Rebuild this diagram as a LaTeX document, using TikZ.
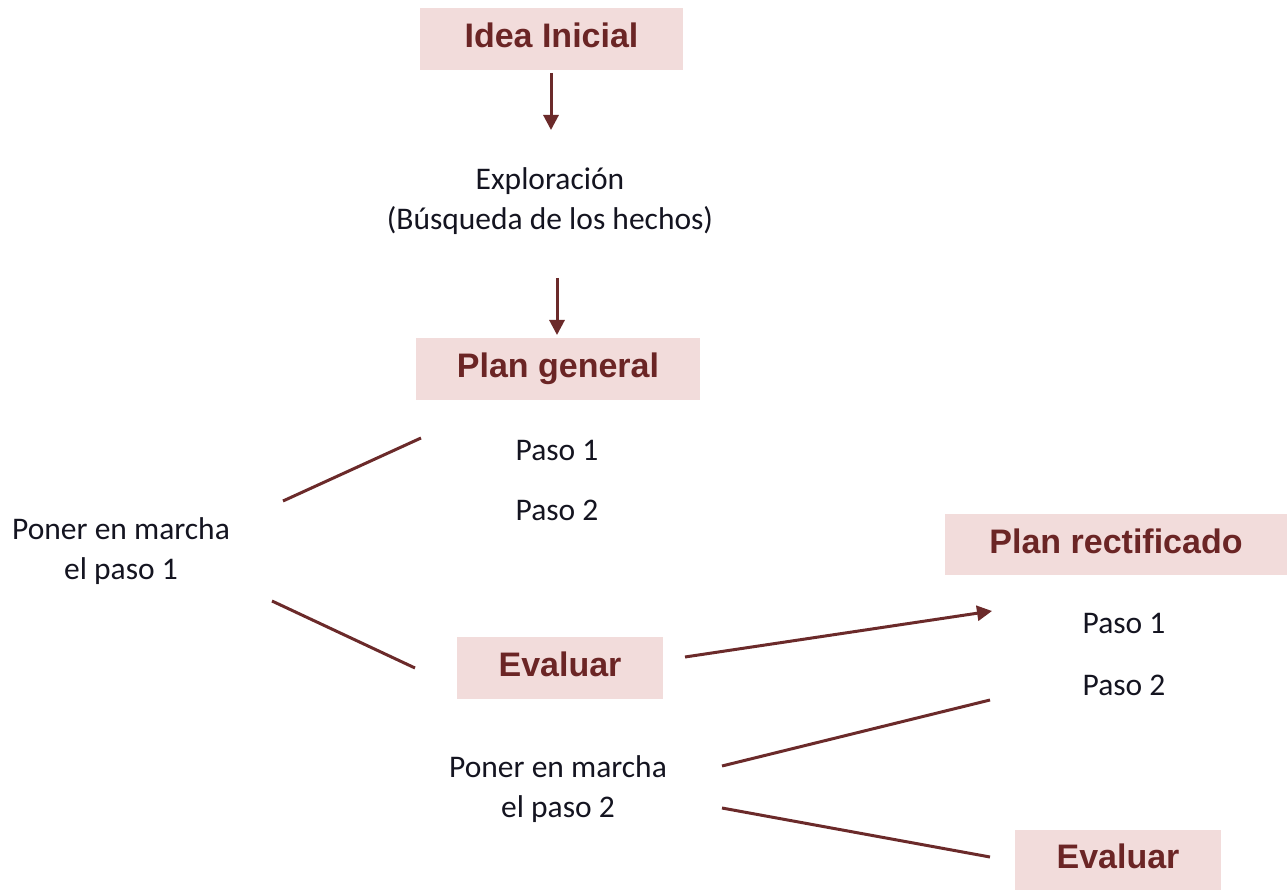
\documentclass[tikz,border=0pt]{standalone}
\usepackage{fontspec}
\setmainfont{Carlito}
\newfontfamily\boxfont{Liberation Sans}
\usetikzlibrary{arrows.meta}
\definecolor{boxfill}{HTML}{F2DCDB}
\definecolor{maroon}{HTML}{6B2525}
\definecolor{linecol}{HTML}{6B2A2A}
\definecolor{txt}{HTML}{141420}
\tikzset{
  hbox/.style={fill=boxfill, draw=none, inner sep=0pt, text=maroon,
    text height=25pt, text depth=8pt,
    font=\boxfont\bfseries\fontsize{34}{40}\selectfont},
  body/.style={inner sep=0pt, text=txt, align=center,
    font=\fontsize{31.5}{40}\selectfont},
  conn/.style={draw=linecol, line width=3pt},
  arr/.style={conn, -{Triangle[length=15pt,width=15pt]}}
}
\begin{document}
\begin{tikzpicture}[x=1pt,y={(0pt,-1pt)}]
\useasboundingbox (0,0) rectangle (1287,890);
% header boxes
\node[hbox, minimum width=263pt, minimum height=62pt] (idea) at (551.5,39) {Idea Inicial};
\node[body] (expl) at (550,201) {Exploración\\(Búsqueda de los hechos)};
\node[hbox, minimum width=284pt, minimum height=62pt] (plan) at (558,369) {Plan general};
\node[body] (p1) at (557,450) {Paso 1};
\node[body] (p2) at (557,510) {Paso 2};
\node[body] (pm1) at (121,551) {Poner en marcha\\el paso 1};
\node[hbox, minimum width=206pt, minimum height=62pt] (eval1) at (560,668) {Evaluar};
\node[hbox, minimum width=342pt, minimum height=61pt] (rect) at (1116,544.5) {Plan rectificado};
\node[body] (r1) at (1124,623) {Paso 1};
\node[body] (r2) at (1124,685) {Paso 2};
\node[body] (pm2) at (558,789) {Poner en marcha\\el paso 2};
\node[hbox, minimum width=206pt, minimum height=60pt] (eval2) at (1118,860) {Evaluar};
% free ends
\coordinate (a1) at (551,73);
\coordinate (a2) at (551,130);
\coordinate (b1) at (557,278);
\coordinate (b2) at (557,335);
\coordinate (la1) at (283,501);
\coordinate (la2) at (421,438);
\coordinate (lb1) at (272,601);
\coordinate (lb2) at (415,668);
\coordinate (e1) at (685,657);
\coordinate (e2) at (992,611);
\coordinate (lc1) at (722,766);
\coordinate (lc2) at (990,700);
\coordinate (ld1) at (722,808);
\coordinate (ld2) at (990,857);
% connectors
\draw[arr] (a1) -- (a2);
\draw[arr] (b1) -- (b2);
\draw[conn] (la1) -- (la2);
\draw[conn] (lb1) -- (lb2);
\draw[arr] (e1) -- (e2);
\draw[conn] (lc1) -- (lc2);
\draw[conn] (ld1) -- (ld2);
\end{tikzpicture}
\end{document}
